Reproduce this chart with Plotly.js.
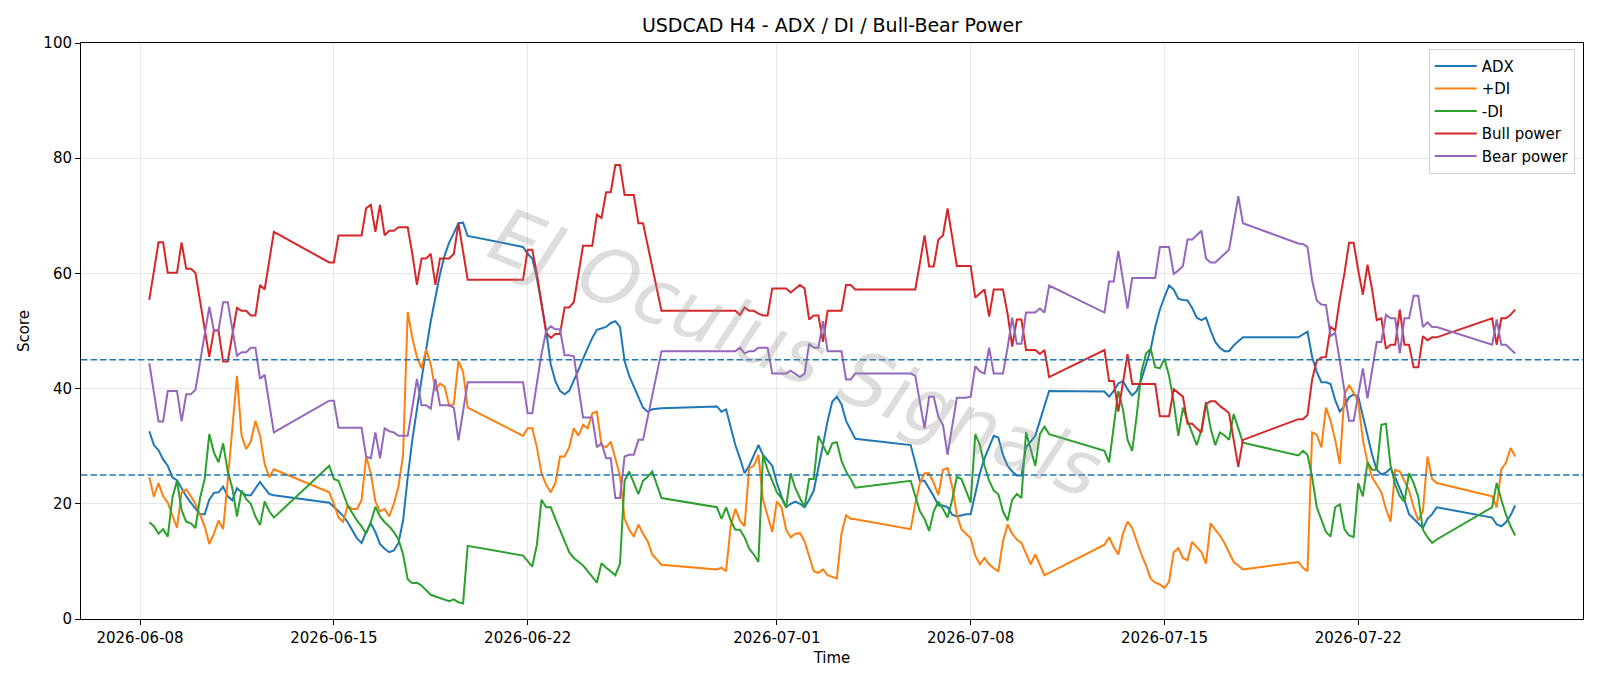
<!DOCTYPE html>
<html><head><meta charset="utf-8">
<script src="https://cdn.plot.ly/plotly-3.0.1.min.js"></script>
<style>html,body{margin:0;padding:0;background:#fff;}#chart{width:1600px;height:686px;}</style>
</head><body><div id="chart"></div>
<script>
// H4 bar index counted from 2026-06-08 00:00
const START_DATE = Date.UTC(2026, 5, 8, 0, 0);
const BAR_HOURS = 4;

const barsFull = [
2,3,4,5,6,7,8,9,10,11,12,13,14,15,16,17,18,19,20,21,22,23,24,25,26,27,28,29,
41,42,43,44,45,46,47,48,49,50,51,52,53,54,55,56,57,58,59,60,61,62,63,64,65,66,67,68,69,70,71,
83,84,85,86,87,88,89,90,91,92,93,94,95,96,97,98,99,100,101,102,103,104,105,106,107,108,109,110,111,112,113,
125,126,127,128,129,130,131,132,133,134,135,136,137,138,139,140,141,142,143,144,145,146,147,148,149,150,151,152,153,154,155,
167,168,169,170,171,172,173,174,175,176,177,178,179,180,181,182,183,184,185,186,187,188,189,190,191,192,193,194,195,196,197,
209,210,211,212,213,214,215,216,217,218,219,220,221,222,223,224,225,226,227,228,229,230,231,232,233,234,235,236,237,238,239,
251,252,253,254,255,256,257,258,259,260,261,262,263,264,265,266,267,268,269,270,271,272,273,274,275,276,277,278,279,280,281,
293,294,295,296,297,298];

const barsPlusDI = [
2,3,4,5,6,7,8,9,10,11,12,13,14,15,16,17,18,19,21,22,23,24,25,26,27,28,29,
41,42,43,44,45,46,47,48,49,50,51,52,53,54,55,56,57,58,59,60,61,62,63,64,65,66,67,68,69,70,71,
83,84,85,86,87,88,89,90,91,92,93,94,95,96,97,98,99,100,101,102,103,104,105,106,107,108,109,110,111,112,113,
125,126,127,128,129,130,131,132,133,134,135,136,137,138,139,140,141,142,143,144,145,146,147,148,149,150,151,152,153,154,155,
167,168,169,170,171,172,173,174,175,176,177,178,179,180,181,182,183,184,185,186,187,188,189,190,191,192,193,194,195,196,197,
209,210,211,212,213,214,215,216,217,218,219,220,221,222,223,224,225,226,227,228,229,230,231,232,233,234,235,236,237,238,239,
251,252,253,254,255,256,257,258,259,260,261,262,263,264,265,266,267,268,269,270,271,272,273,274,275,276,277,278,279,280,281,
293,294,295,296,297,298];

const barsPower = [
2,3,4,5,6,7,8,9,10,11,12,15,16,17,18,19,21,22,23,24,25,26,27,29,
41,42,43,44,45,46,47,48,49,50,51,52,53,54,55,56,57,58,59,60,61,62,63,64,65,66,67,68,69,71,
83,84,85,86,87,88,89,90,91,92,93,94,95,96,97,98,99,100,101,102,103,104,105,106,107,108,109,113,
125,126,127,128,129,130,131,132,133,134,135,136,137,138,139,140,141,142,143,144,145,146,147,148,149,150,151,152,153,154,155,
167,168,169,170,171,172,173,174,175,176,177,178,179,180,181,182,183,184,185,186,187,188,189,190,191,192,193,194,195,196,197,
209,210,211,212,214,215,216,217,218,219,220,221,222,223,224,225,226,227,228,229,230,231,232,233,234,235,236,237,238,239,
251,252,253,254,255,256,257,258,259,260,261,262,263,264,265,266,267,268,269,270,271,272,273,274,275,276,277,278,279,280,281,
293,294,295,296,297,298];

const adxVal = [
32.6,30.2,29.3,27.7,26.6,24.6,24.1,22.7,21.3,20.2,19.1,18.2,18.2,20.7,21.9,22.0,23.0,21.3,20.6,22.7,22.0,21.5,21.5,22.7,23.8,22.7,21.7,21.5,
20.2,19.5,18.7,17.9,16.8,15.5,14.0,13.2,15.1,16.6,15.1,13.0,12.2,11.6,11.9,13.2,17.1,24.6,31.1,36.4,41.9,46.8,51.7,55.9,59.9,63.1,65.4,67.0,68.7,68.8,66.5,
64.6,63.4,62.6,59.2,54.6,50.1,44.2,41.3,39.6,39.0,39.6,41.3,43.2,45.2,47.1,48.8,50.2,50.4,50.7,51.4,51.7,50.7,44.8,42.2,40.3,38.4,36.7,36.0,36.4,36.5,36.6,
36.9,36.0,36.4,33.1,30.2,27.9,25.3,26.6,28.5,30.2,28.5,27.5,26.6,23.6,21.3,19.4,20.0,20.4,20.0,19.4,20.7,22.3,26.6,30.2,34.4,37.7,38.6,37.3,34.4,32.8,31.3,
30.2,27.2,24.0,24.0,22.7,21.3,19.7,19.7,19.4,18.1,17.8,18.0,18.2,18.2,22.0,25.3,27.9,29.8,31.8,31.5,28.5,26.6,25.6,24.9,24.9,29.8,30.8,31.8,34.4,37.0,39.6,
39.5,38.6,39.6,40.9,41.3,39.9,38.8,39.6,41.6,44.2,46.8,50.7,53.7,55.9,57.9,57.2,55.6,55.4,55.3,54.0,52.3,51.9,52.3,50.1,48.1,47.1,46.5,46.5,47.5,48.2,48.9,
48.9,49.4,49.9,45.5,42.9,41.1,41.1,40.8,38.0,36.0,37.0,38.5,39.0,38.6,35.1,31.8,28.5,25.9,25.1,25.4,26.2,24.6,22.7,20.7,18.2,17.4,16.6,15.8,17.4,18.2,19.4,
17.6,16.4,16.1,16.8,18.0,19.7];

const plusDIVal = [
24.6,21.2,23.6,21.3,20.2,18.1,15.8,22.0,22.5,21.3,20.0,18.1,16.1,13.0,14.8,17.1,15.6,24.0,42.2,31.8,29.5,30.8,34.4,31.8,26.9,24.6,26.0,
22.0,20.0,17.6,16.9,19.7,19.1,19.1,20.6,28.2,25.3,20.4,18.7,19.1,17.8,20.0,23.0,28.5,53.3,48.8,45.5,43.5,46.8,44.2,39.6,40.9,40.3,37.0,37.3,44.8,42.9,36.7,
31.8,33.1,33.1,29.8,25.3,23.3,22.0,23.6,28.2,28.2,29.8,33.1,31.8,33.7,33.1,35.7,36.0,30.2,29.8,30.8,27.9,24.9,17.4,15.5,14.3,16.4,14.8,13.5,11.2,10.2,9.4,
8.6,8.9,8.3,16.1,19.1,17.1,16.1,26.2,26.6,28.5,20.7,18.1,15.1,20.4,19.4,15.5,14.2,14.8,14.9,13.5,10.9,8.3,8.0,8.6,7.6,7.3,7.0,14.8,18.0,17.4,17.3,
15.6,20.0,23.6,25.3,25.3,23.6,21.5,25.9,26.2,23.0,18.1,15.6,14.8,14.0,11.0,9.5,10.6,9.5,8.8,8.3,13.5,16.4,14.8,13.8,13.2,11.2,9.5,11.2,9.3,7.6,8.0,
12.9,14.2,12.5,11.2,14.8,16.9,15.8,13.5,11.2,9.3,7.0,6.3,6.0,5.4,6.5,11.6,12.3,10.6,10.2,13.4,12.5,11.6,9.6,16.6,15.5,14.5,13.2,11.6,9.9,9.3,8.6,
9.9,8.9,8.3,32.4,32.0,29.8,36.7,34.4,31.1,26.9,39.0,40.6,39.3,37.7,31.1,27.2,24.6,23.4,22.0,19.1,16.9,25.9,25.6,24.0,22.3,19.4,17.1,18.7,28.2,24.3,23.6,
21.3,19.4,26.0,27.1,29.7,28.2];

const minusDIVal = [
16.8,16.1,14.8,15.6,14.3,21.0,24.0,18.9,16.9,16.6,15.8,21.0,24.3,32.1,28.9,27.2,30.5,25.6,22.7,17.8,22.3,20.8,20.0,17.8,16.3,20.4,18.7,17.6,
26.6,24.3,24.0,22.0,19.7,18.4,17.1,16.1,14.8,16.8,19.5,17.8,16.8,16.1,15.1,13.8,11.2,6.9,6.2,6.3,5.8,5.0,4.2,3.9,3.6,3.4,3.1,3.4,2.9,2.7,12.7,
11.0,10.1,9.1,12.9,20.7,19.4,19.4,17.4,15.5,13.8,11.6,10.6,9.9,9.3,8.3,7.3,6.3,9.7,8.9,8.3,7.6,9.6,24.0,25.6,23.6,21.7,24.0,24.7,25.6,23.3,21.0,
19.4,17.4,19.4,17.1,15.5,15.5,14.2,12.2,11.2,9.9,28.5,25.9,24.0,22.0,21.0,19.4,25.3,22.7,21.0,19.4,24.3,24.3,31.8,30.2,28.5,30.5,30.7,27.5,25.6,24.3,22.8,
24.0,21.3,18.7,17.4,15.3,18.7,20.4,19.1,17.6,20.7,24.7,24.3,22.3,20.2,32.1,30.2,26.6,24.0,22.3,21.7,18.7,17.1,20.7,21.7,21.0,32.4,29.5,26.6,32.1,33.4,32.1,
29.2,27.2,33.7,39.6,36.4,31.1,29.2,35.4,42.9,46.1,46.9,43.7,43.5,45.2,42.2,37.7,31.8,36.7,34.4,32.1,30.2,32.8,37.7,33.1,30.2,32.4,31.9,31.1,35.6,33.1,30.6,
28.4,29.2,28.5,24.6,19.4,17.1,15.1,14.3,19.4,19.9,15.6,14.5,14.2,23.6,21.3,27.2,25.9,25.9,33.7,33.9,26.6,23.3,21.3,20.4,25.3,23.6,21.2,15.5,14.2,13.2,13.8,
19.4,23.6,20.7,18.1,16.1,14.5];

const bullVal = [
55.4,60.8,65.4,65.4,60.1,60.1,60.1,65.4,60.8,60.8,60.1,45.5,50.1,50.1,44.7,44.7,54.0,53.5,53.5,52.7,52.7,58.0,57.2,67.2,
61.9,61.9,66.6,66.6,66.6,66.6,66.6,66.6,71.3,71.9,67.2,71.9,66.6,67.4,67.4,68.0,68.0,68.0,63.4,58.0,62.6,62.6,63.4,58.0,62.6,62.6,62.6,63.4,68.7,58.9,
58.9,64.1,64.1,59.9,54.6,49.7,48.8,49.5,49.5,54.1,54.1,55.0,59.9,64.8,64.8,64.8,70.2,69.6,74.1,74.1,78.8,78.8,73.6,73.6,73.6,68.7,68.7,53.5,
53.5,53.5,53.5,53.5,53.5,52.8,54.1,53.5,53.5,53.0,52.7,52.7,57.4,57.4,57.4,57.4,56.7,57.4,58.0,57.4,52.0,52.7,52.7,48.1,53.5,53.5,53.5,53.5,58.0,58.0,57.2,
57.2,57.2,61.8,66.6,61.2,61.2,65.9,66.6,71.3,66.1,61.3,61.3,61.3,61.3,55.8,56.5,57.2,52.5,57.2,57.2,57.2,53.0,47.3,52.0,52.0,46.7,46.7,46.7,46.0,46.7,42.0,
46.7,41.3,41.3,36.0,46.0,40.8,40.8,40.8,40.8,40.8,40.8,35.2,35.2,35.2,39.9,39.3,38.6,33.9,33.9,33.1,32.4,37.3,37.8,37.8,37.0,36.4,35.7,31.1,26.4,31.1,
34.7,34.7,35.4,41.6,44.8,45.4,45.5,50.7,50.1,55.5,60.0,65.3,65.3,60.5,56.3,61.5,57.2,51.9,52.2,46.9,47.6,47.6,53.7,47.6,47.6,43.7,43.7,49.1,48.4,48.9,48.9,
52.2,47.6,52.2,52.2,52.8,53.7];

const bearVal = [
44.4,39.5,34.3,34.3,39.6,39.6,39.6,34.3,39.0,39.0,39.8,54.2,50.1,50.1,55.0,55.0,45.7,46.3,46.3,47.1,47.1,41.7,42.4,32.4,
37.9,37.9,33.2,33.2,33.2,33.2,33.2,33.2,28.2,27.9,32.4,27.9,33.1,32.6,32.4,31.8,31.8,31.8,36.7,41.7,37.1,37.1,36.5,41.7,37.1,37.1,37.1,36.7,31.0,41.1,
41.1,35.7,35.7,41.0,46.0,50.0,50.8,50.3,50.3,45.8,45.8,45.6,40.3,35.0,35.0,35.0,29.8,30.5,27.9,27.9,21.0,21.0,28.2,28.5,28.5,31.1,31.1,46.5,
46.5,46.5,46.5,46.5,46.5,47.1,46.1,46.5,46.5,47.1,47.1,47.1,42.6,42.6,42.6,42.6,43.1,42.6,42.0,42.6,47.8,47.1,47.1,51.7,46.5,46.5,46.5,46.5,41.6,41.6,42.6,
42.6,42.2,37.7,33.1,38.6,38.6,35.1,33.7,28.5,33.7,38.4,38.4,38.4,38.6,43.9,43.0,42.6,47.1,42.6,42.6,42.6,47.1,52.3,47.8,47.8,53.2,53.2,53.2,53.9,53.2,57.9,
53.2,58.6,58.6,63.9,53.9,59.2,59.2,59.2,59.2,59.2,59.2,64.6,64.6,64.6,59.9,60.5,61.3,65.9,65.9,66.7,67.4,62.6,61.9,61.9,62.6,63.4,64.1,68.7,73.4,68.7,
65.2,65.1,64.6,58.8,55.3,54.6,54.5,49.1,49.7,44.8,39.6,34.4,34.4,39.0,43.5,38.3,42.9,48.1,48.1,52.8,52.2,52.2,46.1,52.2,52.2,56.1,56.1,50.7,51.5,50.7,50.7,
47.6,52.0,47.6,47.6,46.9,46.1];

const levels = [25, 45];
const tickDates = ['2026-06-08', '2026-06-15', '2026-06-22', '2026-07-01', '2026-07-08', '2026-07-15', '2026-07-22'];
const yTicks = [0, 20, 40, 60, 80, 100];

function toTime(bars) {
  return bars.map(function (b) {
    const d = new Date(START_DATE + b * BAR_HOURS * 3600000);
    return d.toISOString().slice(0, 16).replace('T', ' ');
  });
}

const series = [
  {name: 'ADX', bars: barsFull, vals: adxVal, color: '#1f77b4'},
  {name: '+DI', bars: barsPlusDI, vals: plusDIVal, color: '#ff7f0e'},
  {name: '-DI', bars: barsFull, vals: minusDIVal, color: '#2ca02c'},
  {name: 'Bull power', bars: barsPower, vals: bullVal, color: '#d62728'},
  {name: 'Bear power', bars: barsPower, vals: bearVal, color: '#9467bd'}
];

const traces = series.map(function (s, i) {
  return {
    type: 'scatter', mode: 'lines', name: s.name,
    x: toTime(s.bars), y: s.vals,
    line: {color: s.color, width: 2},
    legendgroup: 'g' + i, hoverinfo: 'x+y+name'
  };
});

const shapes = levels.map(function (lv) {
  return {type: 'line', xref: 'paper', x0: 0, x1: 1, yref: 'y', y0: lv, y1: lv,
    line: {color: '#1f77b4', width: 1.4, dash: '6.5px,3px'}, layer: 'above'};
});

const FS = 15;
const axisCommon = {
  showline: true, linecolor: '#000', linewidth: 1, mirror: true,
  ticks: 'outside', ticklen: 5, tickwidth: 1, tickcolor: '#000',
  showgrid: true, gridcolor: '#e6e6e6', gridwidth: 1, zeroline: false,
  tickfont: {family: 'DejaVu Sans', size: FS, color: '#000'}
};

const layout = {
  width: 1600, height: 686,
  margin: {l: 81, r: 17, t: 43, b: 67},
  paper_bgcolor: '#fff', plot_bgcolor: '#fff',
  font: {family: 'DejaVu Sans', size: FS, color: '#000'},
  title: {text: 'USDCAD H4 - ADX / DI / Bull-Bear Power', font: {family: 'DejaVu Sans', size: 19, color: '#000'},
    xref: 'paper', x: 0.5, xanchor: 'center', yref: 'container', y: 1 - 25.5 / 686, yanchor: 'middle'},
  xaxis: Object.assign({}, axisCommon, {
    type: 'date', range: ['2026-06-05 20:48', '2026-07-30 02:48'],
    tickvals: tickDates, ticktext: tickDates,
    title: {text: 'Time', font: {family: 'DejaVu Sans', size: FS}, standoff: 6}
  }),
  yaxis: Object.assign({}, axisCommon, {
    range: [0, 100], tickvals: yTicks, ticktext: yTicks.map(String),
    title: {text: 'Score', font: {family: 'DejaVu Sans', size: FS}, standoff: 10}
  }),
  legend: {x: 0.9945, xanchor: 'right', y: 0.99, yanchor: 'top',
    bgcolor: 'rgba(255,255,255,0.85)', bordercolor: '#d0d0d0', borderwidth: 1,
    font: {family: 'DejaVu Sans', size: FS, color: '#000'},
    itemwidth: 42,
    traceorder: 'grouped', tracegroupgap: 0},
  shapes: shapes,
  annotations: [{
    text: 'EJ Oculus Signals', xref: 'paper', yref: 'paper', x: 0.476, y: 0.4635,
    textangle: 22, showarrow: false,
    font: {family: 'DejaVu Sans', size: 76, color: 'rgba(150,150,150,0.32)', style: 'italic'}
  }],
  showlegend: true
};

Plotly.newPlot('chart', traces, layout, {staticPlot: true, displayModeBar: false}).then(function () {
  series.forEach(function (s) {
    if (s.bars.length !== s.vals.length) {
      throw new Error('length mismatch ' + s.name + ': ' + s.bars.length + ' vs ' + s.vals.length);
    }
  });
});
</script>
</body></html>
